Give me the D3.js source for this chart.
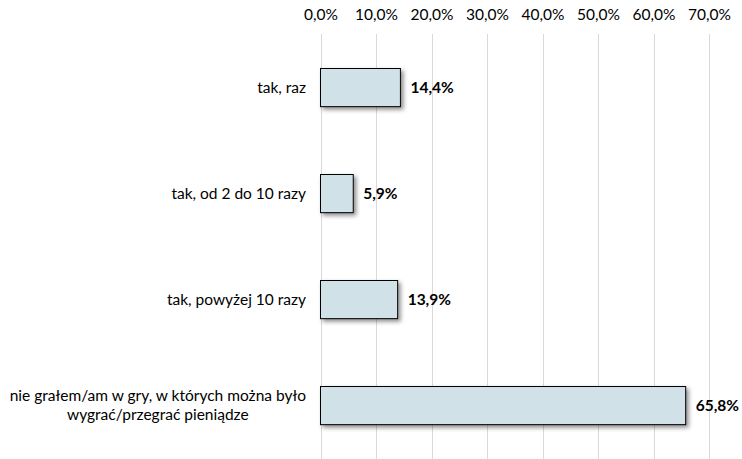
<!DOCTYPE html>
<html><head><meta charset="utf-8">
<script src="https://cdn.jsdelivr.net/npm/d3@7"></script>
<style>body{margin:0;background:#fff}svg{display:block;font-family:Lato,"Open Sans",sans-serif}</style>
</head><body>
<svg id="c" width="742" height="459"></svg>
<script>
const categories = [["tak, raz"], ["tak, od 2 do 10 razy"], ["tak, powyżej 10 razy"], ["nie grałem/am w gry, w których można było", "wygrać/przegrać pieniądze"]];
const values = [14.4, 5.9, 13.9, 65.8];
const ticks = [0, 10, 20, 30, 40, 50, 60, 70];

const FS = 15.5;
const svg = d3.select("#c");
const fmt = v => v.toFixed(1).replace(".", ",") + "%";
const x = d3.scaleLinear().domain([0, 70]).range([320.5, 709]);
const y = d3.scaleBand().domain(d3.range(values.length)).range([34, 458]).paddingInner(0.64).paddingOuter(0.32);

const defs = svg.append("defs");
const f = defs.append("filter").attr("id", "sh").attr("x", "-10%").attr("y", "-30%").attr("width", "130%").attr("height", "180%");
f.append("feDropShadow").attr("dx", 2.5).attr("dy", 2.5).attr("stdDeviation", 2).attr("flood-color", "#000").attr("flood-opacity", 0.45);

// gridlines
svg.append("g").selectAll("line").data(ticks).join("line")
  .attr("x1", d => Math.round(x(d)) + 0.5).attr("x2", d => Math.round(x(d)) + 0.5)
  .attr("y1", 34).attr("y2", 459).attr("stroke", "#d9d9d9").attr("stroke-width", 1);

// top axis labels
const ax = svg.append("g").attr("transform", "translate(0,20)")
  .call(d3.axisTop(x).tickValues(ticks).tickFormat(fmt).tickSize(0).tickPadding(0));
ax.select(".domain").remove();
ax.selectAll("text").attr("font-size", FS).attr("fill", "#000").attr("font-family", "Lato,'Open Sans',sans-serif").attr("dy", "0");

// bars
svg.append("g").selectAll("rect").data(values).join("rect")
  .attr("x", x(0)).attr("y", (d, i) => Math.round(y(i)) + 0.5)
  .attr("width", d => x(d) - x(0)).attr("height", y.bandwidth())
  .attr("fill", "#d0e1e7").attr("stroke", "#000").attr("stroke-width", 1)
  .attr("filter", "url(#sh)");

// value labels
svg.append("g").selectAll("text").data(values).join("text")
  .attr("x", d => x(d) + 10).attr("y", (d, i) => y(i) + y.bandwidth() / 2 + 5.5)
  .attr("font-size", FS).attr("font-weight", "bold").attr("fill", "#000")
  .text(d => fmt(d));

// category labels
const cg = svg.append("g");
categories.forEach((lines, i) => {
  const cy = y(i) + y.bandwidth() / 2;
  const lh = 19;
  const t = cg.append("text").attr("font-size", FS).attr("fill", "#000");
  const spans = lines.map((l, j) => t.append("tspan").text(l)
    .attr("y", cy + 5.5 + (j - (lines.length - 1) / 2) * lh));
  const widths = spans.map(s => s.node().getComputedTextLength());
  const maxW = d3.max(widths);
  const right = 306;
  const center = right - maxW / 2;
  spans.forEach(s => s.attr("x", center).attr("text-anchor", "middle"));
});
</script>
</body></html>
